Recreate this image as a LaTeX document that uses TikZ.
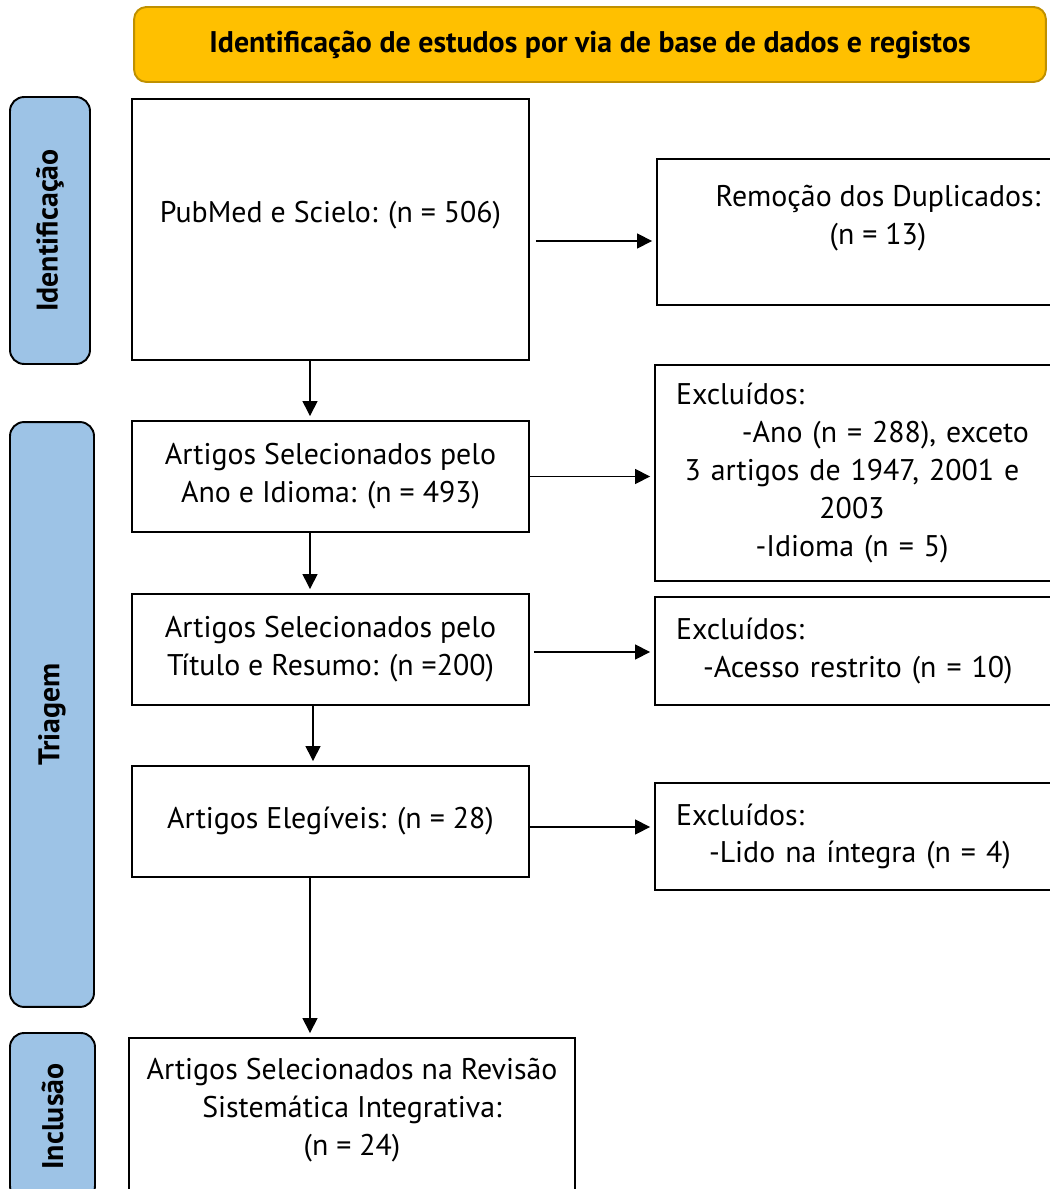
\documentclass[tikz,border=0pt]{standalone}
\usepackage{fontspec}
\setmainfont{PT Sans}
\usetikzlibrary{arrows.meta,positioning}
\definecolor{headfill}{RGB}{255,192,0}
\definecolor{headdraw}{RGB}{191,144,0}
\definecolor{phasefill}{RGB}{157,195,230}
\tikzset{
  box/.style={draw, line width=1.1pt, align=center, inner sep=2pt,
    font=\fontsize{17}{21.5}\selectfont},
  mainbox/.style={box, minimum width=7.94cm},
  exbox/.style={box, align=left, text width=8.04cm, minimum width=8.88cm},
  header/.style={draw=headdraw, fill=headfill, line width=1.1pt, rounded corners=7pt,
    minimum width=18.24cm, minimum height=1.5cm, font=\fontsize{17}{20}\selectfont\bfseries},
  phase/.style={draw, fill=phasefill, line width=1.1pt, rounded corners=8pt, rotate=90,
    font=\fontsize{17}{20}\selectfont\bfseries},
  flow/.style={-{Triangle[length=8.5pt,width=8.5pt]}, line width=0.8pt, shorten >=0.08cm}
}

\begin{document}
\begin{tikzpicture}[x=0.02cm,y=-0.02cm]
  \useasboundingbox (0,0) rectangle (1049,1189);

  % title
  \node[header] (head) at (590,44.5) {Identificação de estudos por via de base de dados e registos};

  % phases
  \node[phase, minimum width=5.34cm, minimum height=1.6cm] (pid) at (50,230.5) {Identificação};
  \node[phase, minimum width=11.7cm, minimum height=1.68cm] (ptri) at (52,714.5) {Triagem};
  \node[phase, minimum width=3.34cm, minimum height=1.7cm] (pinc) at (52.5,1116.5) {Inclusão};

  % main column
  \node[mainbox, minimum height=5.22cm, text depth=0.72cm] (b1) at (330.5,229.5) {PubMed e Scielo: (n = 506)};
  \node[mainbox, minimum height=2.22cm] (b2) at (330.5,476.5) {Artigos Selecionados pelo\\Ano e Idioma: (n = 493)};
  \node[mainbox, minimum height=2.22cm] (b3) at (330.5,649.5) {Artigos Selecionados pelo\\Título e Resumo: (n =200)};
  \node[mainbox, minimum height=2.22cm] (b4) at (330.5,821.5) {Artigos Elegíveis: (n = 28)};
  \node[mainbox, minimum width=8.92cm, minimum height=4cm, text depth=1.25cm] (b5) at (352,1138)
    {Artigos Selecionados na Revisão\\Sistemática Integrativa:\\(n = 24)};

  % right column
  \node[box, minimum width=8.84cm, minimum height=2.92cm, text depth=0.7cm] (dup) at (878,232)
    {Remoção dos Duplicados:\\(n = 13)};
  \node[exbox, minimum height=4.32cm] (ex1) at (877,473)
    {Excluídos:\\
     \makebox[7.06cm][r]{-Ano (n = 288), exceto}\\
     \makebox[7.04cm]{3 artigos de 1947, 2001 e}\\
     \makebox[7.04cm]{2003}\\
     \makebox[7.04cm]{-Idioma (n = 5)}};
  \node[exbox, minimum height=2.16cm] (ex2) at (877,651)
    {Excluídos:\\\hspace*{0.54cm}-Acesso restrito (n = 10)};
  \node[exbox, minimum height=2.14cm] (ex3) at (877,836.5)
    {Excluídos:\\\hspace*{0.66cm}-Lido na íntegra (n = 4)};

  % arrows down
  \draw[flow] ([xshift=-0.41cm]b1.south) -- ([xshift=-0.41cm]b2.north);
  \draw[flow] ([xshift=-0.41cm]b2.south) -- ([xshift=-0.41cm]b3.north);
  \draw[flow] ([xshift=-0.35cm]b3.south) -- ([xshift=-0.35cm]b4.north);
  \draw[flow] ([xshift=-0.41cm]b4.south) -- ([xshift=-0.41cm]b4.south |- b5.north);

  % arrows right
  \draw[flow] ([xshift=0.12cm,yshift=-0.23cm]b1.east) -- ([yshift=-0.23cm]b1.east -| dup.west);
  \draw[flow] (b2.east) -- (b2.east -| ex1.west);
  \draw[flow] ([xshift=0.08cm,yshift=-0.05cm]b3.east) -- ([yshift=-0.05cm]b3.east -| ex2.west);
  \draw[flow] ([yshift=-0.11cm]b4.east) -- ([yshift=-0.11cm]b4.east -| ex3.west);
\end{tikzpicture}
\end{document}
